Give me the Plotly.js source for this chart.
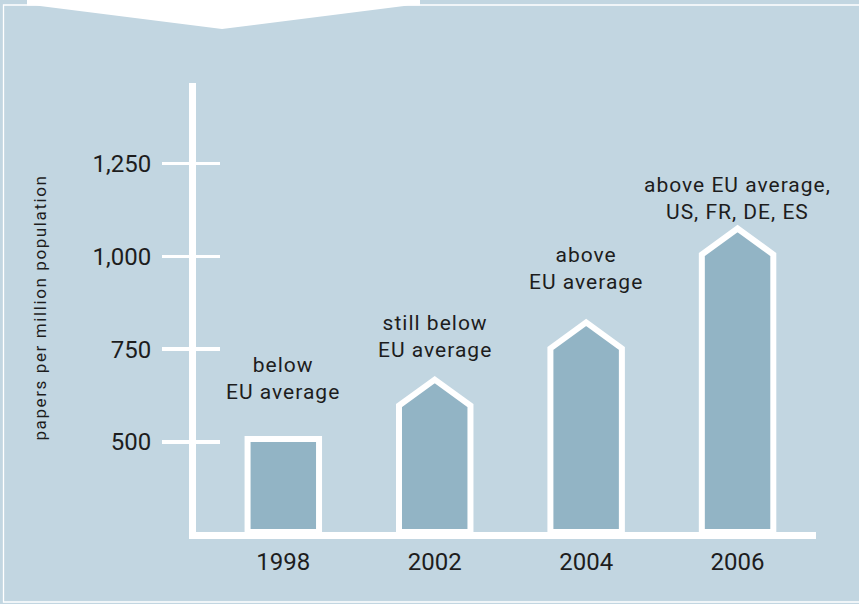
<!DOCTYPE html>
<html>
<head>
<meta charset="utf-8">
<script src="https://cdn.plot.ly/plotly-3.0.1.min.js"></script>
<style>
  html, body { margin: 0; padding: 0; background: #c2d6e1; }
  #chart { width: 859px; height: 604px; }
  .ytitle { letter-spacing: 1.6px; }
  .annotation-text { letter-spacing: 1px; }
</style>
</head>
<body>
<div id="chart"></div>
<script>
// ---- data ----
const years = ['1998', '2002', '2004', '2006'];
const papers = [508, 598, 752, 1005];          // papers per million population
const notes = [
  'below<br>EU average',
  'still below<br>EU average',
  'above<br>EU average',
  'above EU average,<br>US, FR, DE, ES'
];
const yTickVals = [500, 750, 1000, 1250];
const yTickText = ['500', '750', '1,000', '1,250'];

// ---- styling / geometry ----
const W = 859, H = 604;
const M = { l: 196, r: 43, t: 83, b: 72 };
const plotW = W - M.l - M.r, plotH = H - M.t - M.b;
const yRange = [257.5, 1467];
const xRange = [-0.5766, 3.518];
const halfW = 0.236;                 // half bar width (x units)
const roofH = [0, 70, 70, 70];       // arrow roof height (y units), 1998 is flat
const notePos = [670, 784, 967, 1157];
const BG = '#c2d6e1', BAR = '#92b4c5', INK = '#1d1d1d';
const FONT = 'Roboto, "DejaVu Sans", sans-serif';

const px = x => (x - M.l) / plotW;
const py = y => (H - M.b - y) / plotH;

const traces = years.map((yr, i) => {
  const base = yRange[0];
  const v = papers[i];
  return {
    type: 'scatter', mode: 'lines',
    x: [i - halfW, i - halfW, i, i + halfW, i + halfW, i - halfW],
    y: [base, v, v + roofH[i], v, base, base],
    fill: 'toself', fillcolor: BAR,
    line: { color: '#ffffff', width: 6 },
    hoverinfo: 'skip', showlegend: false
  };
});
// dummy trace so that the overlaying axis (inner half of the ticks) is drawn
traces.push({ type: 'scatter', x: [null], y: [null], yaxis: 'y2', showlegend: false, hoverinfo: 'skip' });

const annotations = notes.map((t, i) => ({
  x: i, y: notePos[i], xref: 'x', yref: 'y',
  text: t, showarrow: false, xanchor: 'center', yanchor: 'middle',
  align: 'center', font: { family: FONT, size: 21, color: INK }
}));

const tab = [[27, 0], [420, 0], [420, 5.5], [408, 5.5], [222, 29], [36, 5.5], [27, 5.5]];
const tabPath = 'M' + tab.map(p => px(p[0]) + ',' + py(p[1])).join(' L') + ' Z';

const layout = {
  width: W, height: H,
  margin: M,
  paper_bgcolor: BG, plot_bgcolor: BG,
  showlegend: false,
  xaxis: {
    range: xRange, tickvals: [0, 1, 2, 3], ticktext: years,
    showgrid: false, zeroline: false, ticks: '',
    showline: true, linecolor: '#ffffff', linewidth: 6.5,
    tickfont: { family: FONT, size: 24, color: INK },
    ticklabelstandoff: 3, fixedrange: true
  },
  yaxis: {
    range: yRange, tickvals: yTickVals, ticktext: yTickText,
    showgrid: false, zeroline: false,
    ticks: 'outside', ticklen: 27, tickwidth: 3.5, tickcolor: '#ffffff',
    showline: true, linecolor: '#ffffff', linewidth: 7,
    tickfont: { family: FONT, size: 24, color: INK },
    ticklabelstandoff: 6,
    title: { text: 'papers per million population', font: { family: FONT, size: 17, color: INK }, standoff: 44 },
    fixedrange: true
  },
  yaxis2: {
    overlaying: 'y', side: 'left', range: yRange, tickvals: yTickVals,
    showgrid: false, zeroline: false, showline: false, showticklabels: false,
    ticks: 'inside', ticklen: 24, tickwidth: 3.5, tickcolor: '#ffffff', fixedrange: true
  },
  annotations: annotations,
  shapes: [
    { type: 'path', xref: 'paper', yref: 'paper', path: tabPath, fillcolor: '#ffffff', line: { width: 0 } },
    { type: 'rect', xref: 'paper', yref: 'paper', x0: px(3.5), x1: px(880), y0: py(5), y1: py(602),
      line: { color: '#ffffff', width: 1.3 }, fillcolor: 'rgba(0,0,0,0)' }
  ]
};

Plotly.newPlot('chart', traces, layout, { staticPlot: true, displayModeBar: false });
</script>
</body>
</html>
